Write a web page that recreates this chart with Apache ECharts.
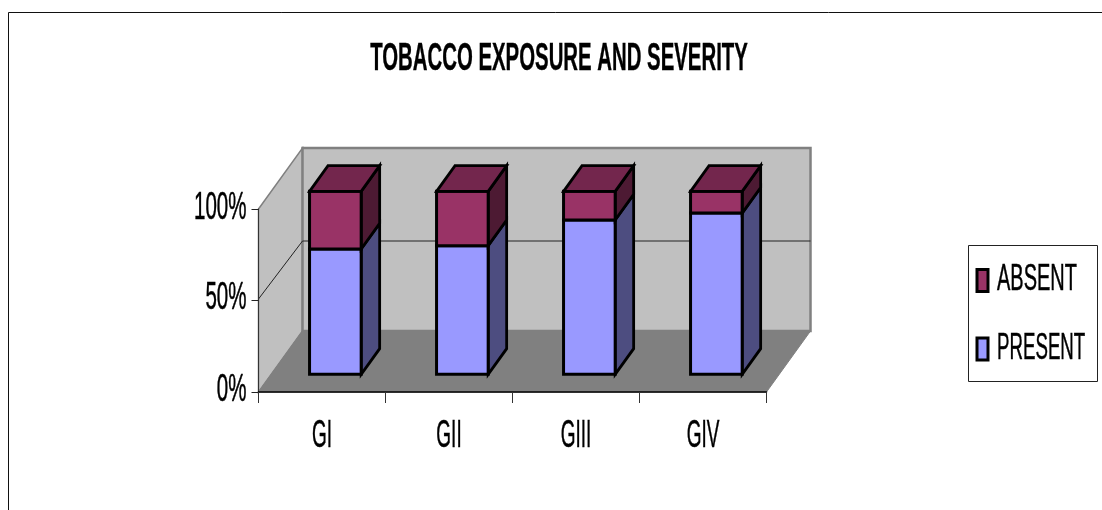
<!DOCTYPE html>
<html>
<head>
<meta charset="utf-8">
<style>html,body{margin:0;padding:0;background:#fff}#chart{width:1102px;height:510px}</style>
<script src="https://cdn.jsdelivr.net/npm/echarts@6/dist/echarts.min.js"></script>
</head>
<body>
<div id="chart"></div>
<script>
// Tobacco exposure by severity grade, share of patients (%)
const categories = ['GI', 'GII', 'GIII', 'GIV'];
const present = [68.5, 70.3, 84.3, 88.1];
const absent = [31.5, 29.7, 15.7, 11.9];
const yTicks = [0, 50, 100];
const titleText = 'TOBACCO EXPOSURE AND SEVERITY';

const DEPTH_X = 44, DEPTH_Y = -61;     // projection of the chart's depth axis
const BAR_DEPTH = [0.29, 0.71];        // front and back of each bar along the depth axis
const BAR_SHIFT = 0.6;                 // sideways offset of the bars inside their bands
const GAP = 1.46;                      // gap between bars relative to bar width
const FONT = '"Liberation Sans", Arial, sans-serif';

const poly = (points, fill, stroke, lineWidth) => ({
  type: 'polygon',
  shape: { points },
  style: { fill, stroke, lineWidth, lineJoin: 'miter' }
});
// Condensed lettering: the glyphs are squeezed horizontally around their anchor
const squeezed = (text, x, y, align, size, scale, weight, thicken) => ({
  type: 'text', x, y, scaleX: scale,
  style: {
    text, fill: '#000', stroke: '#000', lineWidth: thicken, align, verticalAlign: 'middle',
    font: (weight || 'normal') + ' ' + size + 'px ' + FONT
  }
});

// Walls, floor, depth gridlines and tick text
function renderFrame(params, api) {
  const c = params.coordSys;
  const l = c.x, r = c.x + c.width, t = c.y, b = c.y + c.height;
  const dx = DEPTH_X, dy = DEPTH_Y;
  const kids = [
    poly([[l, t], [l + dx, t + dy], [l + dx, b + dy], [l, b]], '#c0c0c0', '#808080', 1.5),
    poly([[l + dx, t + dy], [r + dx, t + dy], [r + dx, b + dy], [l + dx, b + dy]], '#c0c0c0', '#808080', 2.5),
    poly([[l, b], [l + dx, b + dy], [r + dx, b + dy], [r, b]], '#808080', '#808080', 1)
  ];
  const labelNudge = { 0: -1, 50: -2, 100: 0 };
  yTicks.forEach(v => {
    const y = api.coord([0, v])[1];
    if (v > 0 && v < 100) {
      kids.push({
        type: 'polyline',
        shape: { points: [[l, y - 1.5], [l + dx, y + dy + 1.5], [r + dx, y + dy + 1.5]] },
        style: { fill: 'none', stroke: '#222', lineWidth: 1 }
      });
    }
    kids.push(squeezed(v + '%', l - 12, y + labelNudge[v], 'right', 38, 0.54, 'normal', 0.5));
  });
  categories.forEach((name, i) => {
    kids.push(squeezed(name, api.coord([i, 0])[0], b + 44.5, 'center', 38, 0.5, 'normal', 0.5));
  });
  return { type: 'group', children: kids };
}

// One stacked block of a bar, with its side face and optional top face
function blockRenderer(front, side, top) {
  return function (params, api) {
    const i = api.value(0);
    const from = api.value(1), to = api.value(2);
    const band = api.size([1, 0])[0];
    const w = band / (1 + GAP);
    const p0 = api.coord([i, from]), p1 = api.coord([i, to]);
    const x0 = p0[0] - w / 2 + DEPTH_X * BAR_DEPTH[0] + BAR_SHIFT;
    const x1 = x0 + w;
    const yb = p0[1] + DEPTH_Y * BAR_DEPTH[0];
    const yt = p1[1] + DEPTH_Y * BAR_DEPTH[0];
    const sx = DEPTH_X * (BAR_DEPTH[1] - BAR_DEPTH[0]);
    const sy = DEPTH_Y * (BAR_DEPTH[1] - BAR_DEPTH[0]);
    const kids = [
      poly([[x1, yb], [x1 + sx, yb + sy], [x1 + sx, yt + sy], [x1, yt]], side, '#000', 2.8),
      poly([[x0, yb], [x1, yb], [x1, yt], [x0, yt]], front, '#000', 3)
    ];
    if (top) {
      kids.push(poly([[x0, yt], [x0 + sx, yt + sy], [x1 + sx, yt + sy], [x1, yt]], top, '#000', 2.8));
    }
    return { type: 'group', children: kids };
  };
}

const presentRows = categories.map((_, i) => [i, 0, present[i]]);
const absentRows = categories.map((_, i) => [i, present[i], present[i] + absent[i]]);

// Hand-laid legend box so its lettering can be condensed like the rest of the chart
function legendEntry(name, color, swatchY, textY, scale) {
  return [
    { type: 'rect', shape: { x: 977, y: swatchY - 11, width: 11, height: 22 },
      style: { fill: color, stroke: '#000', lineWidth: 3 } },
    squeezed(name, 997, textY, 'left', 37, scale, 'normal', 0.5)
  ];
}

const chart = echarts.init(document.getElementById('chart'));
chart.setOption({
  animation: false,
  backgroundColor: '#fff',
  grid: { left: 258.5, top: 209, width: 508, height: 183, containLabel: false },
  xAxis: {
    type: 'category', data: categories, z: 5,
    axisLine: { lineStyle: { color: '#000', width: 1.5 } },
    axisTick: { show: true, length: 11, alignWithLabel: false, lineStyle: { color: '#333', width: 1 } },
    axisLabel: { show: false }
  },
  yAxis: {
    type: 'value', min: 0, max: 100, interval: 50, z: 5,
    axisLine: { show: true, lineStyle: { color: '#333', width: 1 } },
    axisTick: { show: true, length: 7, lineStyle: { color: '#222', width: 1 } },
    axisLabel: { show: false },
    splitLine: { show: false }
  },
  series: [
    { type: 'custom', name: 'frame', z: 1, silent: true, data: [[0, 0, 0]], renderItem: renderFrame,
      encode: { x: 0, y: 1 } },
    { type: 'custom', name: 'PRESENT', z: 2, silent: true, data: presentRows,
      encode: { x: 0, y: 2 },
      renderItem: blockRenderer('#9999ff', '#4d4d80') },
    { type: 'custom', name: 'ABSENT', z: 3, silent: true, data: absentRows,
      encode: { x: 0, y: 2 },
      renderItem: blockRenderer('#993366', '#4d1a33', '#73264d') }
  ],
  graphic: [
    { type: 'polyline', shape: { points: [[8.5, 510], [8.5, 12.5], [1102, 12.5]] },
      style: { fill: 'none', stroke: '#111', lineWidth: 1 } },
    squeezed(titleText, 559, 60, 'center', 38, 0.536, 'bold', 0.4),
    { type: 'rect', shape: { x: 968.5, y: 245.5, width: 129, height: 136 },
      style: { fill: '#fff', stroke: '#222', lineWidth: 1 } },
    ...legendEntry('ABSENT', '#993366', 280.5, 279.5, 0.54),
    ...legendEntry('PRESENT', '#9999ff', 349, 348.7, 0.505)
  ]
});
</script>
</body>
</html>
